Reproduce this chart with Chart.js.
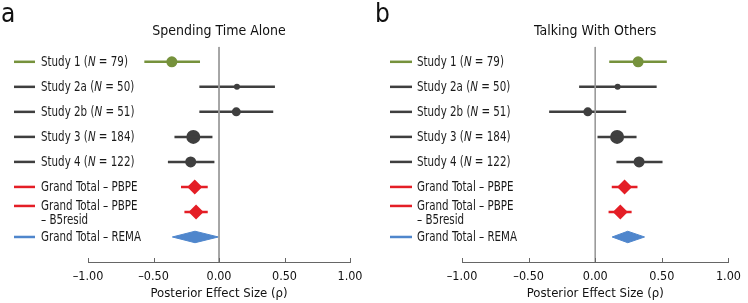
<!DOCTYPE html>
<html>
<head>
<meta charset="utf-8">
<script src="https://cdn.jsdelivr.net/npm/chart.js@4"></script>
<style>
  body { margin: 0; background: #fff; }
  #wrap { position: relative; width: 748px; height: 303px; font-family: "DejaVu Sans Condensed", "Liberation Sans", sans-serif; }
  .panel { position: absolute; top: 0; width: 374px; height: 303px; }
  .letter { position: absolute; top: 0px; font-size: 26px; line-height: 1; color: #111; }
</style>
</head>
<body>
<div id="wrap">
  <div class="panel" style="left:0"><canvas id="chartA" width="374" height="303"></canvas></div>
  <div class="panel" style="left:374px"><canvas id="chartB" width="374" height="303"></canvas></div>
  <div class="letter" style="left:1px">a</div>
  <div class="letter" style="left:375px">b</div>
</div>
<script>
const FONT = '"DejaVu Sans Condensed", "Liberation Sans", sans-serif';

// rows, top to bottom
const studyNames = ["Study 1", "Study 2a", "Study 2b", "Study 3", "Study 4"];
const studyN = [79, 50, 51, 184, 122];
const totalNames = [["Grand Total \u2013 PBPE"], ["Grand Total \u2013 PBPE", "\u2013 B5resid"], ["Grand Total \u2013 REMA"]];

// panel a: Spending Time Alone
const estA  = [-0.36, 0.137, 0.132, -0.196, -0.216, -0.185, -0.175, -0.183];
const lowA  = [-0.57, -0.15, -0.15, -0.34, -0.39, -0.29, -0.264, -0.356];
const highA = [-0.145, 0.427, 0.414, -0.05, -0.035, -0.086, -0.086, -0.005];

// panel b: Talking With Others
const estB  = [0.322, 0.168, -0.056, 0.164, 0.329, 0.22, 0.188, 0.244];
const lowB  = [0.105, -0.121, -0.346, 0.017, 0.159, 0.124, 0.1, 0.127];
const highB = [0.537, 0.461, 0.232, 0.31, 0.505, 0.317, 0.273, 0.37];

const xTicks = [-1, -0.5, 0, 0.5, 1];

const GREEN = "#76923c", GRAY = "#3f3f3f", RED = "#e41e26", BLUE = "#4f86cc";
const rowColors = [GREEN, GRAY, GRAY, GRAY, GRAY, RED, RED, BLUE];
const dotRadius = [5.5, 3, 4.5, 7, 5.5];

// legend text + colour sample, placed on the y scale rows
const legendPlugin = {
    id: "rowLegend",
    afterDraw(chart, args, opts) {
        const ctx = chart.ctx;
        const y = chart.scales.y;
        const sx = 0.79; // squeeze text, the original face is condensed
        ctx.save();
        ctx.textBaseline = "middle";
        ctx.fillStyle = "#1a1a1a";
        rowColors.forEach((col, i) => {
            let py = y.getPixelForValue(i + 1);
            const lines = i < studyNames.length ? null : totalNames[i - studyNames.length];
            if (lines && lines.length > 1) py -= 6;
            ctx.strokeStyle = col;
            ctx.lineWidth = 2.5;
            ctx.beginPath();
            ctx.moveTo(opts.lineX0, py);
            ctx.lineTo(opts.lineX1, py);
            ctx.stroke();

            ctx.save();
            ctx.translate(opts.textX, 0);
            ctx.scale(sx, 1);
            let x = 0;
            if (!lines) {
                const parts = [[studyNames[i] + " (", ""], ["N", "italic "], [" = " + studyN[i] + ")", ""]];
                parts.forEach(p => {
                    ctx.font = p[1] + "14.5px " + FONT;
                    ctx.fillText(p[0], x, py);
                    x += ctx.measureText(p[0]).width;
                });
            } else {
                ctx.font = "14.5px " + FONT;
                lines.forEach((t, k) => ctx.fillText(t, 0, py + k * 14));
            }
            ctx.restore();
        });
        ctx.restore();
    }
};

// tick marks pointing up from the x axis
const tickPlugin = {
    id: "upTicks",
    afterDraw(chart) {
        const ctx = chart.ctx, xs = chart.scales.x, b = chart.chartArea.bottom;
        ctx.save();
        ctx.strokeStyle = "#666";
        ctx.lineWidth = 1;
        xs.ticks.forEach(t => {
            const px = Math.round(xs.getPixelForValue(t.value)) + 0.5;
            ctx.beginPath();
            ctx.moveTo(px, b);
            ctx.lineTo(px, b - 4);
            ctx.stroke();
        });
        ctx.restore();
    }
};

function buildDatasets(est, low, high) {
    const ds = [];
    ds.push({
        type: "line",
        data: [{ x: 0, y: 0.4 }, { x: 0, y: 9 }],
        borderColor: "#9a9a9a", borderWidth: 1, pointRadius: 0
    });
    est.forEach((v, i) => {
        if (i === 7) return;
        ds.push({
            type: "line",
            data: [{ x: low[i], y: i + 1 }, { x: high[i], y: i + 1 }],
            borderColor: rowColors[i], borderWidth: 2.5, pointRadius: 0
        });
    });
    ds.push({
        type: "scatter",
        data: est.slice(0, 5).map((v, i) => ({ x: v, y: i + 1 })),
        pointRadius: dotRadius, pointHoverRadius: dotRadius,
        backgroundColor: rowColors.slice(0, 5), borderWidth: 0
    });
    ds.push({
        type: "scatter",
        data: [{ x: est[5], y: 6 }, { x: est[6], y: 7 }],
        pointStyle: "rectRot", pointRadius: 7.5,
        backgroundColor: RED, borderWidth: 0
    });
    // REMA diamond: interval as width
    const h = 0.23;
    ds.push({
        type: "line",
        data: [{ x: low[7], y: 8 }, { x: est[7], y: 8 - h }, { x: high[7], y: 8 },
               { x: est[7], y: 8 + h }, { x: low[7], y: 8 }],
        borderColor: BLUE, backgroundColor: BLUE, borderWidth: 1,
        fill: "shape", pointRadius: 0, tension: 0
    });
    return ds;
}

function renderChart(id, title, est, low, high, padRight, legendPos) {
    return new Chart(document.getElementById(id).getContext("2d"), {
        data: { datasets: buildDatasets(est, low, high) },
        options: {
            responsive: false,
            animation: false,
            layout: { padding: { left: 88, right: padRight, top: 0, bottom: 2 } },
            plugins: {
                legend: { display: false },
                tooltip: { enabled: false },
                title: {
                    display: true, text: title, fullSize: false, color: "#111",
                    font: { family: FONT, size: 14, weight: "normal" },
                    padding: { top: 23, bottom: 7 }
                },
                rowLegend: legendPos
            },
            scales: {
                x: {
                    type: "linear", min: -1, max: 1,
                    afterBuildTicks: s => { s.ticks = xTicks.map(v => ({ value: v })); },
                    grid: { display: true, drawOnChartArea: false, drawTicks: false },
                    border: { display: true, color: "#666", width: 1 },
                    ticks: {
                        padding: 7, color: "#111",
                        font: { family: FONT, size: 12.5 },
                        callback: v => (v < 0 ? "\u2013" : "") + Math.abs(v).toFixed(2)
                    },
                    title: {
                        display: true, text: "Posterior Effect Size (\u03c1)", color: "#111",
                        font: { family: FONT, size: 13, lineHeight: 1 },
                        padding: { top: -4, bottom: 1 }
                    }
                },
                y: { type: "linear", reverse: true, min: 0.4, max: 9, display: false }
            }
        },
        plugins: [legendPlugin, tickPlugin]
    });
}

renderChart("chartA", "Spending Time Alone", estA, lowA, highA, 24, { lineX0: 14, lineX1: 35, textX: 41 });
renderChart("chartB", "Talking With Others", estB, lowB, highB, 13, { lineX0: 16, lineX1: 38, textX: 43 });
</script>
</body>
</html>
